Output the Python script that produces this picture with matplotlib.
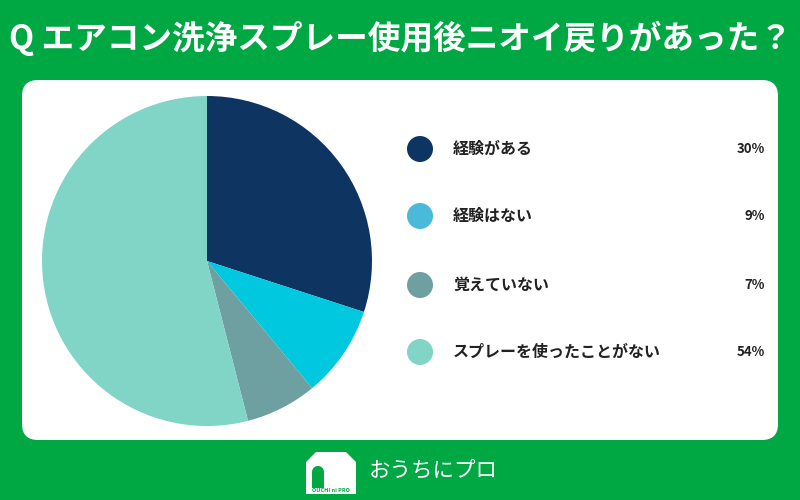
import matplotlib.pyplot as plt
from matplotlib.patches import FancyBboxPatch, Circle, Polygon, Rectangle

plt.rcParams['font.family'] = ['Noto Sans CJK JP', 'DejaVu Sans']

TITLE = "Q エアコン洗浄スプレー使用後ニオイ戻りがあった？"
labels = ["経験がある", "経験はない", "覚えていない", "スプレーを使ったことがない"]
values = [30, 9, 7, 54]
pie_colors = ["#0E3461", "#00C9DF", "#6E9FA1", "#80D5C6"]
legend_colors = ["#0E3461", "#4BB9DA", "#6E9FA1", "#80D5C6"]

GREEN = "#00A844"

fig = plt.figure(figsize=(8, 5), dpi=100)
fig.patch.set_facecolor(GREEN)

# background axes in pixel coords (y down)
bg = fig.add_axes([0, 0, 1, 1])
bg.set_xlim(0, 800)
bg.set_ylim(500, 0)
bg.axis("off")

bg.text(400, 38, TITLE, ha="center", va="center", color="white",
        fontsize=23.5, fontweight="bold")

panel = FancyBboxPatch((22, 80), 756, 360, boxstyle="round,pad=0,rounding_size=16",
                       facecolor="white", edgecolor="none")
bg.add_patch(panel)

# legend
ys = [149, 216, 285, 352]
for y, lab, col, v in zip(ys, labels, legend_colors, values):
    bg.add_patch(Circle((420, y), 13, facecolor=col, edgecolor="none"))
    bg.text(453, y, lab, ha="left", va="center", fontsize=11.5,
            fontweight="bold", color="#222222")
    bg.text(765, y, f"{v}%", ha="right", va="center", fontsize=9.5,
            fontweight="bold", color="#222222")

# logo
house = Polygon([[306, 494], [306, 462], [316, 452], [346, 452], [356, 462], [356, 494]],
                closed=True, facecolor="white", edgecolor="none")
bg.add_patch(house)
bg.add_patch(Rectangle((312, 472), 12, 16, facecolor=GREEN, edgecolor="none"))
bg.add_patch(Circle((318, 472), 6, facecolor=GREEN, edgecolor="none"))
bg.text(331, 491, "OUCHI ni PRO", ha="center", va="center", fontsize=4,
        color=GREEN, fontweight="bold")
bg.text(369, 472, "おうちにプロ", ha="left", va="center", fontsize=15.5,
        color="white")

# pie
cx, cy, r = 207, 261, 165
pax = fig.add_axes([(cx - r) / 800, (500 - cy - r) / 500, 2 * r / 800, 2 * r / 500])
pax.pie(values, colors=pie_colors, startangle=90, counterclock=False,
        wedgeprops=dict(linewidth=0))
pax.set_xlim(-1, 1)
pax.set_ylim(-1, 1)
pax.set_aspect("equal")

fig.savefig("out.png", dpi=100, facecolor=GREEN)
